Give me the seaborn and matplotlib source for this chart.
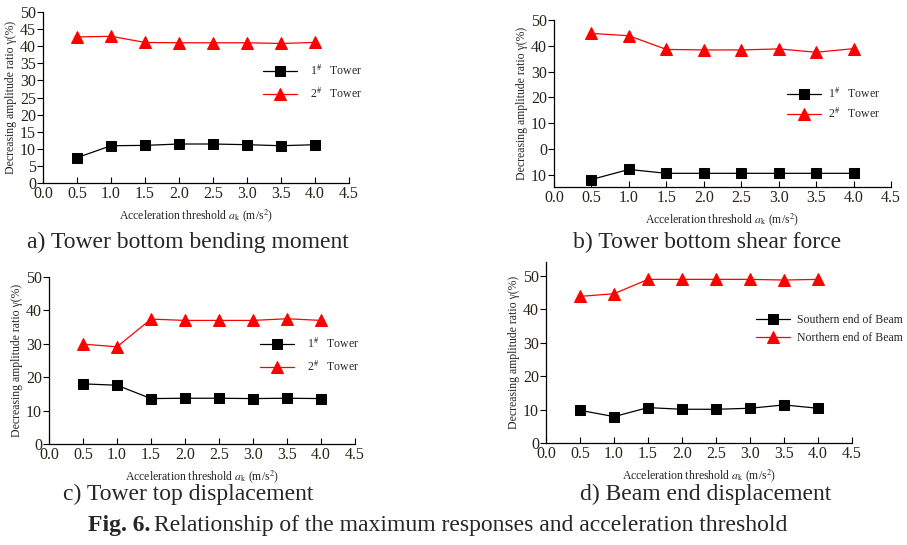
import numpy as np
import matplotlib
matplotlib.use("Agg")
import matplotlib.pyplot as plt
import seaborn as sns

# ---------------------------------------------------------------------------
# Data
# ---------------------------------------------------------------------------
threshold = [0.5, 1.0, 1.5, 2.0, 2.5, 3.0, 3.5, 4.0]

# a) tower bottom bending moment
a_tower1 = [7.4, 10.9, 11.0, 11.4, 11.4, 11.2, 10.9, 11.2]
a_tower2 = [42.7, 42.9, 41.1, 41.0, 41.0, 41.0, 40.8, 41.1]

# b) tower bottom shear force (axis is labelled oddly in the original)
b_tower1 = [-11.8, -7.9, -9.4, -9.4, -9.4, -9.4, -9.4, -9.4]
b_tower2 = [44.8, 43.9, 38.6, 38.4, 38.4, 38.8, 37.5, 38.9]
b_ytick_pos = [50, 40, 30, 20, 10, 0, -10]
b_ytick_lbl = ["50", "40", "30", "20", "10", "0", "10"]

# c) tower top displacement
c_tower1 = [18.0, 17.6, 13.6, 13.7, 13.7, 13.6, 13.7, 13.6]
c_tower2 = [29.9, 29.1, 37.4, 37.0, 37.0, 37.0, 37.5, 37.0]

# d) beam end displacement
d_south = [9.8, 7.9, 10.6, 10.1, 10.1, 10.4, 11.4, 10.4]
d_north = [43.9, 44.7, 49.0, 49.0, 49.0, 49.0, 48.8, 49.0]

x_ticks = [0.0, 0.5, 1.0, 1.5, 2.0, 2.5, 3.0, 3.5, 4.0, 4.5]

tower_labels = ["1$^{\\#}$   Tower", "2$^{\\#}$   Tower"]
beam_labels = ["Southern end of Beam", "Northern end of Beam"]

captions = [
    "a) Tower bottom bending moment",
    "b) Tower bottom shear force",
    "c) Tower top displacement",
    "d) Beam end displacement",
]

# ---------------------------------------------------------------------------
# Style
# ---------------------------------------------------------------------------
sns.set_theme(style="white")
plt.rcParams["font.family"] = ["Liberation Serif", "DejaVu Serif"]
plt.rcParams["mathtext.fontset"] = "stix"

fig = plt.figure(figsize=(9.07, 5.45), dpi=100)
W, H = 907, 545


def make_ax(left, right, top, bottom):
    return fig.add_axes([left / W, 1 - bottom / H, (right - left) / W, (bottom - top) / H])


def style_ax(ax, ylim, yticks, ylabels=None):
    ax.set_xlim(0, 4.5)
    ax.set_ylim(*ylim)
    ax.set_xticks(x_ticks)
    ax.set_xticklabels([f"{v:.1f}" for v in x_ticks])
    ax.set_yticks(yticks)
    if ylabels is not None:
        ax.set_yticklabels(ylabels)
    for side in ["top", "right"]:
        ax.spines[side].set_visible(False)
    for side in ["left", "bottom"]:
        ax.spines[side].set_color("black")
        ax.spines[side].set_linewidth(0.9)
    ax.tick_params(axis="y", direction="out", length=4, width=0.8, pad=1,
                   labelsize=11.5, colors="black", labelcolor="#2a2418", left=True)
    ax.tick_params(axis="x", direction="in", length=4, width=0.8, pad=2,
                   labelsize=11.5, colors="black", labelcolor="#2a2418", bottom=True)
    ax.set_xlabel("Acceleration threshold $a_{\\mathrm{k}}$ (m/s$^2$)", fontsize=8.5, labelpad=4)
    ax.set_ylabel("Decreasing amplitude ratio γ(%)", fontsize=8.5, labelpad=2)


def draw(ax, y1, y2, labels, leg_anchor, spacing, textpad):
    sns.lineplot(x=threshold, y=y1, ax=ax, color="black", marker="s", markersize=7,
                 markeredgecolor="black", linewidth=0.9, label=labels[0])
    sns.lineplot(x=threshold, y=y2, ax=ax, color="red", marker="^", markersize=8,
                 markeredgecolor="red", linewidth=0.9, label=labels[1])
    ax.legend(loc="center left", bbox_to_anchor=leg_anchor, frameon=False,
              fontsize=8.5, handlelength=2.9, handletextpad=textpad,
              labelspacing=spacing, borderpad=0, borderaxespad=0)


ax_a = make_ax(43, 349, 12, 183)
draw(ax_a, a_tower1, a_tower2, tower_labels, (0.719, 0.588), 0.75, 1.1)
style_ax(ax_a, (0, 50), list(range(0, 51, 5)))

ax_b = make_ax(554, 891, 20, 187)
draw(ax_b, b_tower1, b_tower2, tower_labels, (0.691, 0.497), 0.5, 0.6)
style_ax(ax_b, (-14.7, 50), b_ytick_pos, b_ytick_lbl)

ax_c = make_ax(49, 355, 277, 444)
draw(ax_c, c_tower1, c_tower2, tower_labels, (0.690, 0.53), 0.75, 1.1)
style_ax(ax_c, (0, 50), list(range(0, 51, 10)))

ax_d = make_ax(546, 852, 262, 443)
draw(ax_d, d_south, d_north, beam_labels, (0.686, 0.63), 0.5, 0.6)
style_ax(ax_d, (0, 54.2), list(range(0, 51, 10)))

# sub-captions and figure caption
cap_size = 17
fig.text(188 / W, 1 - 242 / H, captions[0], ha="center", va="center", fontsize=cap_size)
fig.text(707 / W, 1 - 242 / H, captions[1], ha="center", va="center", fontsize=cap_size)
fig.text(188 / W, 1 - 494 / H, captions[2], ha="center", va="center", fontsize=cap_size)
fig.text(706 / W, 1 - 494 / H, captions[3], ha="center", va="center", fontsize=cap_size)

t1 = fig.text(88 / W, 1 - 526 / H, "Fig. 6.", ha="left", va="center",
              fontsize=cap_size, fontweight="bold")
fig.canvas.draw()
bb = t1.get_window_extent()
fig.text((bb.x1 + 4) / W, 1 - 526 / H,
         "Relationship of the maximum responses and acceleration threshold",
         ha="left", va="center", fontsize=cap_size)

fig.savefig("out.png", dpi=100)
